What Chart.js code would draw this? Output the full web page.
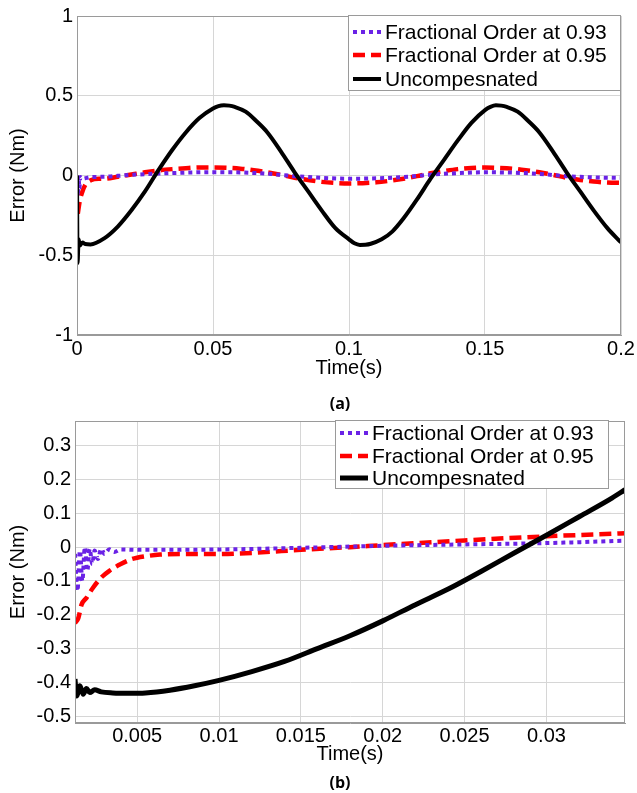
<!DOCTYPE html>
<html>
<head>
<meta charset="utf-8">
<script src="https://cdn.jsdelivr.net/npm/chart.js@4.4.1/dist/chart.umd.min.js"></script>
<style>
  body { margin: 0; background: #fff; width: 637px; height: 793px; position: relative; overflow: hidden; }
  .plot { position: absolute; left: 0; }
  .cap { position: absolute; width: 40px; margin-left: -20px; text-align: center;
         font: bold 16px "Open Sans", "Liberation Sans", sans-serif; color: #000; line-height: 18px; }
</style>
</head>
<body>
<canvas id="chartA" class="plot" width="637" height="395" style="top:0"></canvas>
<div class="cap" style="left:340px; top:394px">(a)</div>
<canvas id="chartB" class="plot" width="637" height="375" style="top:405px"></canvas>
<div class="cap" style="left:340px; top:773px">(b)</div>
<script>
// series labels
const seriesLabels = ['Fractional Order at 0.93', 'Fractional Order at 0.95', 'Uncompesnated'];

// ---- (a) full 0..0.2 s run: [time, error] pairs
const fo93A = [[0,0],[0.0003,-0.13],[0.0006,-0.02],[0.0009,-0.08],[0.0012,-0.01],[0.002,-0.02],[0.005,-0.01],
  [0.01,-0.008],[0.015,-0.002],[0.02,0.004],[0.03,0.012],[0.04,0.018],[0.05,0.021],[0.06,0.019],[0.07,0.011],
  [0.08,-0.004],[0.09,-0.015],[0.1,-0.02],[0.11,-0.018],[0.12,-0.01],[0.13,0.005],[0.14,0.015],[0.15,0.02],
  [0.16,0.018],[0.17,0.01],[0.18,-0.004],[0.19,-0.012],[0.2,-0.015]];
const fo95A = [[0.0003,-0.24],[0.001,-0.16],[0.002,-0.1],[0.003,-0.06],[0.005,-0.03],[0.008,-0.02],[0.01,-0.02],
  [0.015,-0.008],[0.02,0.006],[0.025,0.02],[0.03,0.032],[0.035,0.04],[0.04,0.046],[0.045,0.05],[0.05,0.05],
  [0.055,0.048],[0.06,0.043],[0.065,0.033],[0.07,0.02],[0.075,0.004],[0.08,-0.014],[0.085,-0.028],[0.09,-0.04],
  [0.095,-0.047],[0.1,-0.05],[0.105,-0.048],[0.11,-0.043],[0.115,-0.033],[0.12,-0.02],[0.125,-0.004],
  [0.13,0.014],[0.135,0.028],[0.14,0.04],[0.145,0.047],[0.15,0.05],[0.155,0.048],[0.16,0.043],[0.165,0.033],
  [0.17,0.02],[0.175,0.004],[0.18,-0.014],[0.185,-0.028],[0.19,-0.038],[0.195,-0.044],[0.2,-0.046]];
const uncompA = [[0,0],[0.0002,-0.55],[0.0006,-0.4],[0.001,-0.44],[0.002,-0.42],[0.003,-0.43],[0.005,-0.432],
  [0.01,-0.394],[0.015,-0.32],[0.02,-0.218],[0.025,-0.1],[0.03,0.035],[0.035,0.16],[0.04,0.27],[0.045,0.36],
  [0.05,0.42],[0.052,0.435],[0.054,0.44],[0.056,0.438],[0.058,0.43],[0.062,0.4],[0.066,0.34],[0.07,0.27],
  [0.075,0.15],[0.08,0.02],[0.085,-0.1],[0.09,-0.22],[0.095,-0.33],[0.1,-0.4],[0.102,-0.425],[0.104,-0.435],
  [0.106,-0.434],[0.108,-0.428],[0.112,-0.4],[0.116,-0.35],[0.12,-0.27],[0.125,-0.15],[0.13,-0.02],
  [0.135,0.1],[0.14,0.22],[0.145,0.33],[0.15,0.41],[0.152,0.43],[0.154,0.44],[0.156,0.438],[0.158,0.43],
  [0.162,0.4],[0.166,0.34],[0.17,0.27],[0.175,0.15],[0.18,0.02],[0.185,-0.1],[0.19,-0.22],[0.195,-0.33],
  [0.2,-0.42]];
const xTicksA = [0, 0.05, 0.1, 0.15, 0.2];
const yTicksA = [-1, -0.5, 0, 0.5, 1];

// ---- (b) zoom on the start of the run
const fo93B = [[0.0012,-0.02],[0.00135,-0.13],[0.0015,-0.01],[0.00165,-0.1],[0.0018,0],[0.00195,-0.07],
  [0.0021,-0.005],[0.00225,-0.05],[0.0024,-0.01],[0.0026,-0.035],[0.0028,-0.005],[0.003,-0.02],[0.0033,-0.006],
  [0.0036,-0.014],[0.004,-0.007],[0.005,-0.008],[0.01,-0.007],[0.015,-0.002],[0.02,0.004],[0.025,0.008],
  [0.03,0.012],[0.0348,0.019]];
const fo95B = [[0.0012,-0.225],[0.0014,-0.21],[0.0016,-0.17],[0.0019,-0.15],[0.0023,-0.12],[0.0028,-0.09],
  [0.0033,-0.07],[0.004,-0.05],[0.0047,-0.035],[0.0055,-0.027],[0.0064,-0.022],[0.008,-0.02],[0.01,-0.02],
  [0.012,-0.017],[0.015,-0.008],[0.018,0],[0.02,0.006],[0.025,0.02],[0.03,0.032],[0.0348,0.041]];
const uncompB = [[0.0012,-0.39],[0.0013,-0.44],[0.0015,-0.41],[0.0017,-0.435],[0.0019,-0.418],[0.0021,-0.43],
  [0.0024,-0.422],[0.0028,-0.428],[0.0035,-0.431],[0.0045,-0.432],[0.0055,-0.431],[0.007,-0.423],[0.0085,-0.41],
  [0.01,-0.394],[0.012,-0.368],[0.014,-0.338],[0.016,-0.3],[0.018,-0.262],[0.02,-0.218],[0.022,-0.17],
  [0.024,-0.124],[0.026,-0.072],[0.028,-0.018],[0.03,0.035],[0.032,0.09],[0.034,0.145],[0.0348,0.17]];
const xTicksB = [0.005, 0.01, 0.015, 0.02, 0.025, 0.03];
const yTicksB = [-0.5, -0.4, -0.3, -0.2, -0.1, 0, 0.1, 0.2, 0.3];

const FONT = '"Liberation Sans", Arial, sans-serif';
const toPts = arr => arr.map(p => ({ x: p[0], y: p[1] }));
const fmt = v => String(+v.toFixed(4));

// draws the matlab style box around the plot area
const framePlugin = {
    id: 'frame',
    afterDraw(chart) {
        const { ctx, chartArea: a } = chart;
        ctx.save();
        ctx.strokeStyle = '#9a9a9a';
        ctx.lineWidth = 1;
        ctx.strokeRect(a.left + 0.5, a.top + 0.5, a.right - a.left - 1, a.bottom - a.top - 1);
        ctx.restore();
    }
};

// legend box sitting inside the axes (top right), like matlab
const boxLegend = {
    id: 'boxLegend',
    afterDraw(chart, args, opts) {
        const { ctx } = chart;
        const [bx, by, bw, bh] = opts.box;
        ctx.save();
        ctx.fillStyle = '#fff';
        ctx.fillRect(bx, by, bw, bh);
        ctx.strokeStyle = '#9a9a9a';
        ctx.lineWidth = 1;
        ctx.strokeRect(bx + 0.5, by + 0.5, bw, bh);
        chart.data.datasets.forEach((ds, i) => {
            const y = opts.rows[i];
            ctx.beginPath();
            ctx.strokeStyle = ds.borderColor;
            ctx.lineWidth = ds.borderWidth;
            ctx.setLineDash(ds.borderDash || []);
            ctx.moveTo(opts.sample[0], y);
            ctx.lineTo(opts.sample[1], y);
            ctx.stroke();
            ctx.setLineDash([]);
            ctx.fillStyle = '#000';
            ctx.font = '21px ' + FONT;
            ctx.textBaseline = 'middle';
            ctx.fillText(ds.label, opts.textX, y + 1);
        });
        ctx.restore();
    }
};

function makeDatasets(fo93, fo95, uncomp, blackWidth) {
    return [
        { label: seriesLabels[0], data: toPts(fo93), borderColor: '#6a22e6', borderWidth: 4, borderDash: [4, 4], order: 2 },
        { label: seriesLabels[1], data: toPts(fo95), borderColor: '#ff0000', borderWidth: 4.5, borderDash: [12, 6], order: 3 },
        { label: seriesLabels[2], data: toPts(uncomp), borderColor: '#000000', borderWidth: blackWidth, borderDash: [], order: 1 }
    ].map(d => Object.assign(d, { pointRadius: 0, fill: false, cubicInterpolationMode: 'monotone' }));
}

function makeChart(id, datasets, cfg) {
    new Chart(document.getElementById(id), {
        type: 'line',
        data: { datasets: datasets },
        options: {
            responsive: false,
            animation: false,
            events: [],
            layout: { padding: cfg.padding },
            plugins: {
                legend: { display: false },
                tooltip: { enabled: false },
                boxLegend: cfg.legend
            },
            scales: {
                x: {
                    type: 'linear', min: cfg.xMin, max: cfg.xMax,
                    afterBuildTicks: s => { s.ticks = cfg.xTicks.map(v => ({ value: v })); },
                    afterFit: s => { s.height = cfg.xHeight; },
                    grid: { color: '#d6d6d6', drawTicks: false },
                    border: { color: '#9a9a9a' },
                    ticks: { color: '#000', font: { family: FONT, size: 20 }, padding: cfg.xTickPad, maxRotation: 0, callback: fmt },
                    title: { display: true, text: 'Time(s)', color: '#000', font: { family: FONT, size: 20 }, padding: { top: 0, bottom: 0 } }
                },
                y: {
                    type: 'linear', min: cfg.yMin, max: cfg.yMax,
                    afterBuildTicks: s => { s.ticks = cfg.yTicks.map(v => ({ value: v })); },
                    afterFit: s => { s.width = cfg.yWidth; },
                    grid: { color: '#d6d6d6', drawTicks: false },
                    border: { color: '#9a9a9a' },
                    ticks: { color: '#000', font: { family: FONT, size: 20 }, padding: 4, callback: fmt },
                    title: { display: true, text: 'Error (Nm)', color: '#000', font: { family: FONT, size: 20 }, padding: { top: 6, bottom: 0 } }
                }
            }
        },
        plugins: [framePlugin, boxLegend]
    });
}

makeChart('chartA', makeDatasets(fo93A, fo95A, uncompA, 4), {
    padding: { left: 0, top: 14, right: 16, bottom: 15 },
    xMin: 0, xMax: 0.2, yMin: -1, yMax: 1,
    xTicks: xTicksA, yTicks: yTicksA,
    xHeight: 45, yWidth: 77, xTickPad: 2,
    legend: { box: [348, 15, 272, 75], rows: [32, 55, 79], sample: [353, 381], textX: 385 }
});

makeChart('chartB', makeDatasets(fo93B, fo95B, uncompB, 5), {
    padding: { left: 0, top: 14, right: 12, bottom: 14 },
    xMin: 0.0012, xMax: 0.0348, yMin: -0.52, yMax: 0.373,
    xTicks: xTicksB, yTicks: yTicksB,
    xHeight: 43, yWidth: 75, xTickPad: 1,
    legend: { box: [335, 15, 273, 68], rows: [28, 51, 73], sample: [340, 368], textX: 372 }
});
</script>
</body>
</html>
